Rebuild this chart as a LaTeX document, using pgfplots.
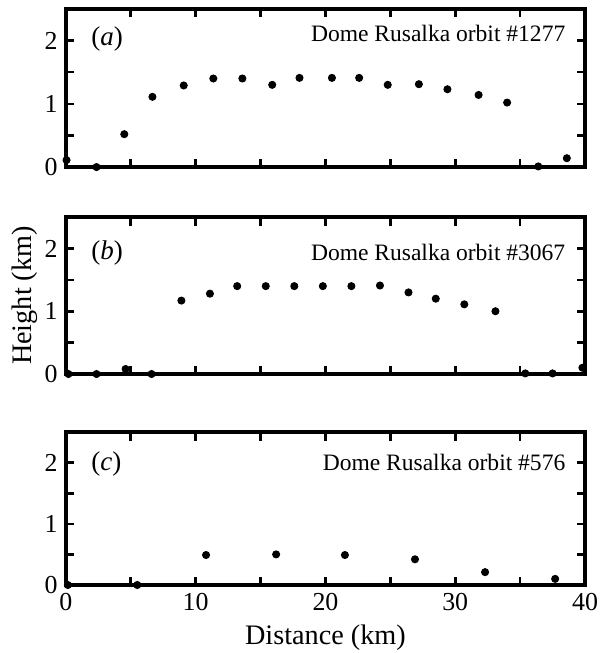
\documentclass[border=0pt]{standalone}
\usepackage{fontspec}
\setmainfont{Liberation Serif}
\usepackage{pgfplots}
\pgfplotsset{compat=1.18}

\pgfplotsset{
  panel/.style={
    scale only axis, width=220.6pt, anchor=south west,
    xmin=0, xmax=40, ymin=0, ymax=2.5,
    xtick={0,10,...,40}, minor xtick={5,15,25,35},
    ytick={0,1,2}, minor ytick={0.5,1.5},
    tick align=inside, major tick length=3.6pt, minor tick length=3.6pt,
    axis line style={line width=1.5pt},
    tick style={black, line width=1.1pt},
    tick label style={font=\fontsize{11}{13}\selectfont},
    xticklabel style={inner xsep=0pt},
    /pgf/number format/assume math mode=true,
    clip=false,
  },
  dots/.style={only marks, mark=*, black, mark size=1.5pt},
}
\tikzset{
  tag/.style={font=\fontsize{11.5}{14}\selectfont, anchor=west},
  orbit/.style={font=\fontsize{10}{12}\selectfont, anchor=east},
}

\begin{document}
\begin{tikzpicture}
% page area as in the reference
\useasboundingbox (-28pt,-28.9pt) rectangle (226.6pt,248.6pt);
% (a)
\begin{axis}[panel, height=67.2pt, at={(0,177.6pt)}, xticklabels={}]
\addplot[dots] coordinates {(0.05,0.11)(2.36,0)(4.5,0.52)(6.67,1.11)(9.08,1.29)(11.36,1.40)
  (13.6,1.40)(15.9,1.30)(18.0,1.41)(20.5,1.41)(22.6,1.41)(24.8,1.30)(27.2,1.31)
  (29.4,1.23)(31.8,1.14)(34.0,1.02)(36.4,0.01)(38.6,0.14)};
\node[tag] at (rel axis cs:0.033,0.81) {(\textit{a})};
\node[orbit] at (rel axis cs:0.978,0.848) {Dome Rusalka orbit \#1277};
\end{axis}
% (b)
\begin{axis}[panel, height=66.7pt, at={(0,89.65pt)}, xticklabels={},
  ylabel={Height (km)}, ylabel shift=-4pt,
  ylabel style={font=\fontsize{12}{14}\selectfont}]
\addplot[dots] coordinates {(0.2,0)(2.36,0)(4.6,0.08)(6.6,0)(8.9,1.17)(11.1,1.28)(13.2,1.40)
  (15.4,1.40)(17.6,1.40)(19.8,1.40)(22.0,1.40)(24.2,1.41)(26.4,1.30)(28.5,1.20)
  (30.7,1.11)(33.1,1.0)(35.4,0.01)(37.5,0.01)(39.8,0.1)};
\node[tag] at (rel axis cs:0.033,0.774) {(\textit{b})};
\node[orbit] at (rel axis cs:0.978,0.774) {Dome Rusalka orbit \#3067};
\end{axis}
% (c)
\begin{axis}[panel, height=65pt, at={(0,0)},
  xlabel={Distance (km)}, xlabel shift=-1pt,
  xlabel style={font=\fontsize{12}{14}\selectfont}]
\addplot[dots] coordinates {(0.15,0)(5.5,0)(10.8,0.49)(16.2,0.5)(21.5,0.49)(26.9,0.42)
  (32.3,0.21)(37.7,0.1)};
\node[tag] at (rel axis cs:0.033,0.79) {(\textit{c})};
\node[orbit] at (rel axis cs:0.978,0.80) {Dome Rusalka orbit \#576};
\end{axis}
\end{tikzpicture}
\end{document}
